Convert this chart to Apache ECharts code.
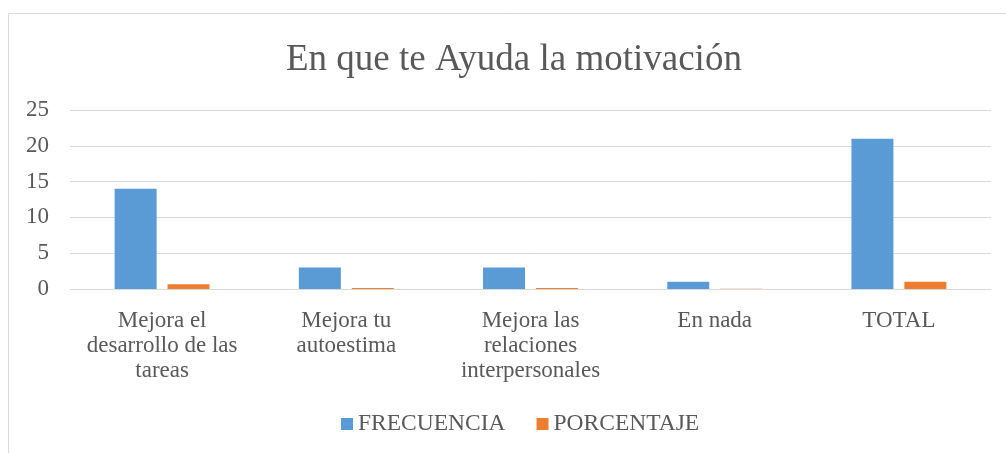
<!DOCTYPE html>
<html><head><meta charset="utf-8">
<script src="https://cdn.jsdelivr.net/npm/echarts@6/dist/echarts.min.js"></script>
<style>html,body{margin:0;padding:0;background:#fff}#c{width:1006px;height:453px}</style>
</head><body><div id="c"></div>
<script>
const categories = ["Mejora el\ndesarrollo de las\ntareas", "Mejora tu\nautoestima", "Mejora las\nrelaciones\ninterpersonales", "En nada", "TOTAL"];
const frecuencia = [14, 3, 3, 1, 21];
const porcentaje = [0.67, 0.14, 0.14, 0.05, 1];
const seriesNames = ["FRECUENCIA", "PORCENTAJE"];
const chart = echarts.init(document.getElementById('c'), null, {renderer: 'canvas'});
const font = "'Liberation Serif', 'Times New Roman', serif";
chart.setOption({
  animation: false,
  backgroundColor: '#fff',
  graphic: [{type: 'rect', shape: {x: 8.5, y: 13.5, width: 1010, height: 460}, style: {fill: 'none', stroke: '#d9d9d9', lineWidth: 1}}],
  title: {text: 'En que te Ayuda la motivación', left: 281, top: 37, textStyle: {fontFamily: font, fontSize: 37, fontWeight: 'normal', color: '#595959'}},
  legend: {data: seriesNames, bottom: 12, left: 336, itemWidth: 12, itemHeight: 12, itemGap: 31, icon: 'rect',
    textStyle: {fontFamily: font, fontSize: 23.5, color: '#595959', padding: [0, 0, 0, 0]}},
  grid: {left: 70, right: 15, top: 110, bottom: 164, containLabel: false},
  xAxis: {type: 'category', data: categories,
    axisLine: {lineStyle: {color: '#d9d9d9', width: 1}}, axisTick: {show: false},
    axisLabel: {fontFamily: font, fontSize: 23, color: '#595959', lineHeight: 25, margin: 19, interval: 0}},
  yAxis: {type: 'value', min: 0, max: 25, interval: 5,
    axisLine: {show: false}, axisTick: {show: false},
    splitLine: {lineStyle: {color: '#d9d9d9', width: 1}},
    axisLabel: {fontFamily: font, fontSize: 23, color: '#595959', margin: 21}},
  series: [
    {name: seriesNames[0], type: 'bar', data: frecuencia, barWidth: 42, barGap: '26%', itemStyle: {color: '#5b9bd5'}},
    {name: seriesNames[1], type: 'bar', data: porcentaje, barWidth: 42, itemStyle: {color: '#ed7d31'}}
  ]
});
</script></body></html>
